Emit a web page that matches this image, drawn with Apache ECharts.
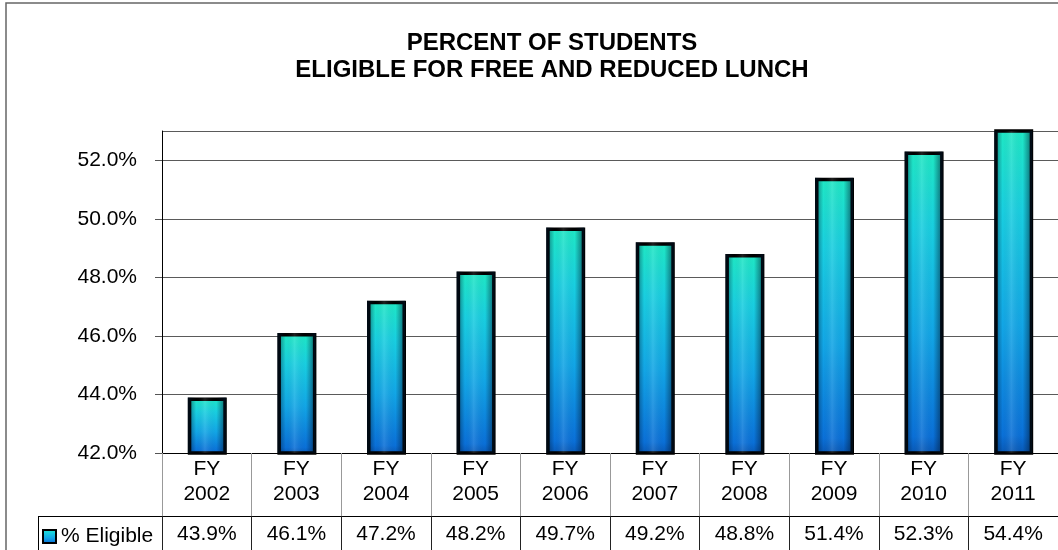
<!DOCTYPE html>
<html>
<head>
<meta charset="utf-8">
<script src="https://cdn.jsdelivr.net/npm/echarts@6/dist/echarts.min.js"></script>
<style>
html, body { margin: 0; padding: 0; background: #fff; }
#main { width: 1058px; height: 550px; }
</style>
</head>
<body>
<div id="main"></div>
<script>
var years = ['2002', '2003', '2004', '2005', '2006', '2007', '2008', '2009', '2010', '2011'];
var eligible = [43.9, 46.1, 47.2, 48.2, 49.7, 49.2, 48.8, 51.4, 52.3, 54.4];
var seriesName = '% Eligible';

var FONT = '"Liberation Sans", Arial, sans-serif';

var chart = echarts.init(document.getElementById('main'));

var barFill = new echarts.graphic.LinearGradient(0, 0, 0, 1, [
    { offset: 0, color: '#1fe8c4' },
    { offset: 0.25, color: '#19cfe0' },
    { offset: 0.6, color: '#12a6e6' },
    { offset: 0.94, color: '#0a70d8' },
    { offset: 1, color: '#0856b2' }
]);
// darker edges, light middle -> cylinder look
var shade = new echarts.graphic.LinearGradient(0, 0, 1, 0, [
    { offset: 0, color: 'rgba(0,20,40,0.55)' },
    { offset: 0.22, color: 'rgba(0,20,40,0)' },
    { offset: 0.45, color: 'rgba(255,255,255,0.12)' },
    { offset: 0.75, color: 'rgba(0,20,40,0)' },
    { offset: 1, color: 'rgba(0,20,40,0.6)' }
]);

var option = {
    backgroundColor: '#fff',
    animation: false,
    title: {
        text: 'PERCENT OF STUDENTS\nELIGIBLE FOR FREE AND REDUCED LUNCH',
        left: 552,
        top: 30,
        padding: 0,
        textAlign: 'center',
        textVerticalAlign: 'top',
        textStyle: {
            fontFamily: FONT,
            fontSize: 24,
            fontWeight: 'bold',
            lineHeight: 27,
            color: '#000'
        }
    },
    legend: {
        data: [seriesName],
        left: 42,
        top: 526,
        padding: 0,
        itemWidth: 13,
        itemHeight: 13,
        icon: 'rect',
        itemStyle: { borderColor: '#000', borderWidth: 2 },
        textStyle: { fontFamily: FONT, fontSize: 21, color: '#000' }
    },
    grid: {
        left: 162,
        top: 131,
        width: 903,
        height: 322
    },
    xAxis: [{
        type: 'category',
        data: years,
        position: 'bottom',
        axisLine: { show: true, lineStyle: { color: '#000', width: 1 } },
        axisTick: { show: true, length: 63, lineStyle: { color: '#999' } },
        axisLabel: {
            margin: 4,
            fontFamily: FONT,
            fontSize: 21,
            lineHeight: 25,
            color: '#000',
            formatter: function (v) { return 'FY\n' + v; }
        }
    }, {
        type: 'category',
        data: eligible.map(function (v) { return v.toFixed(1) + '%'; }),
        position: 'bottom',
        offset: 63,
        axisLine: { show: true, lineStyle: { color: '#000', width: 1 } },
        axisTick: { show: true, length: 34, lineStyle: { color: '#222' } },
        axisLabel: {
            margin: 7,
            fontFamily: FONT,
            fontSize: 21,
            lineHeight: 22,
            color: '#000'
        }
    }],
    yAxis: {
        type: 'value',
        min: 42,
        max: 53,
        interval: 2,
        axisLine: { show: true, lineStyle: { color: '#000', width: 1 } },
        axisTick: { show: true, length: 7, lineStyle: { color: '#555' } },
        splitLine: { show: true, lineStyle: { color: '#5a5a5a', width: 1 } },
        axisLabel: {
            margin: 25,
            fontFamily: FONT,
            fontSize: 21,
            color: '#000',
            showMaxLabel: false,
            formatter: function (v) { return v === 53 ? '' : v.toFixed(1) + '%'; }
        }
    },
    series: [{
        name: seriesName,
        type: 'bar',
        data: eligible,
        barWidth: 39,
        clip: true,
        itemStyle: {
            color: barFill,
            borderColor: '#000',
            borderWidth: 3.5
        }
    }, {
        name: 'shade',
        type: 'bar',
        data: eligible,
        barWidth: 38,
        barGap: '-100%',
        clip: true,
        silent: true,
        itemStyle: { color: shade }
    }],
    graphic: [{
        type: 'rect',
        shape: { x: 6, y: 3, width: 1120, height: 620 },
        style: { fill: null, stroke: '#666', lineWidth: 1.5 },
        silent: true,
        z: -10
    }, {
        type: 'line',
        shape: { x1: 38, y1: 516.5, x2: 162, y2: 516.5 },
        style: { stroke: '#000', lineWidth: 1 }
    }, {
        type: 'line',
        shape: { x1: 38.5, y1: 516, x2: 38.5, y2: 560 },
        style: { stroke: '#000', lineWidth: 1 }
    }]
};

chart.setOption(option);
</script>
</body>
</html>
